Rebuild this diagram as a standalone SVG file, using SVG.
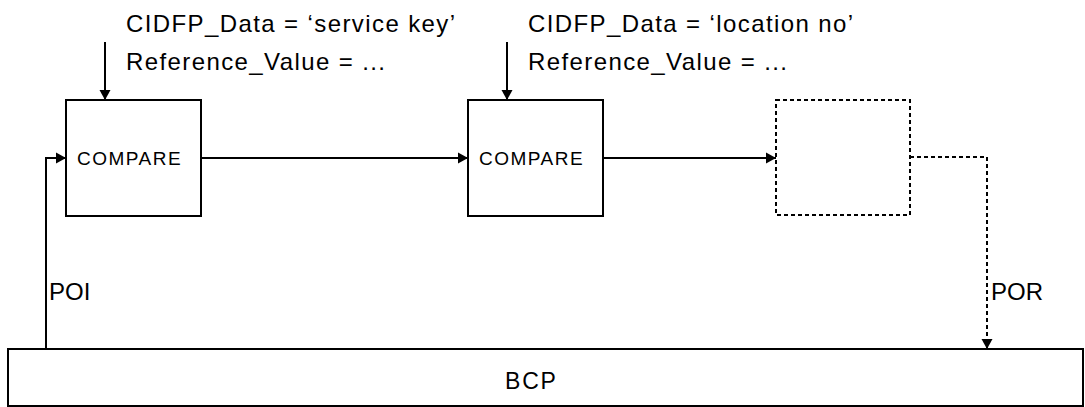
<svg xmlns="http://www.w3.org/2000/svg" width="1085" height="407" viewBox="0 0 1085 407">
<defs>
<marker id="arr" markerUnits="userSpaceOnUse" markerWidth="11" markerHeight="12" refX="10" refY="6" orient="auto">
<path d="M0,0.5 L10,6 L0,11.5 z" fill="#000"/>
</marker>
<style>
.box{fill:#fff;stroke:#000;stroke-width:2}
.dot{fill:none;stroke:#000;stroke-width:2;stroke-dasharray:4 3}
.ln{fill:none;stroke:#000;stroke-width:2}
.big{font-family:"Liberation Sans",Arial,sans-serif;font-size:24px;letter-spacing:1.4px;fill:#000}
.cmp{font-family:"Liberation Sans",Arial,sans-serif;font-size:19px;letter-spacing:1.5px;fill:#000}
.lbl{font-family:"Liberation Sans",Arial,sans-serif;font-size:24px;fill:#000}
.bcp{font-family:"Liberation Sans",Arial,sans-serif;font-size:23px;letter-spacing:1.8px;fill:#000}
</style>
</defs>
<rect width="1085" height="407" fill="#fff"/>
<g id="annot1">
<text class="big" x="126" y="32">CIDFP_Data = ‘service key’</text>
<text class="big" x="126" y="70">Reference_Value = ...</text>
</g>
<g id="annot2">
<text class="big" x="528" y="32">CIDFP_Data = ‘location no’</text>
<text class="big" x="528" y="70">Reference_Value = ...</text>
</g>
<g id="compare1">
<rect class="box" x="66" y="100" width="135" height="116"/>
<text class="cmp" x="77" y="165">COMPARE</text>
</g>
<g id="compare2">
<rect class="box" x="468" y="100" width="135" height="116"/>
<text class="cmp" x="479" y="165">COMPARE</text>
</g>
<g id="placeholder">
<rect class="dot" x="776" y="100" width="134" height="115"/>
</g>
<g id="bcp">
<rect class="box" x="8" y="349" width="1075" height="57"/>
<text class="bcp" x="505" y="389">BCP</text>
</g>
<g id="connectors">
<line class="ln" x1="105" y1="42" x2="105" y2="100" marker-end="url(#arr)"/>
<line class="ln" x1="507" y1="42" x2="507" y2="100" marker-end="url(#arr)"/>
<polyline class="ln" points="46,349 46,158 66,158" marker-end="url(#arr)"/>
<line class="ln" x1="201" y1="158" x2="468" y2="158" marker-end="url(#arr)"/>
<line class="ln" x1="603" y1="158" x2="776" y2="158" marker-end="url(#arr)"/>
<polyline class="dot" points="910,157 987,157 987,349" marker-end="url(#arr)"/>
<text class="lbl" x="49" y="300">POI</text>
<text class="lbl" x="991" y="300">POR</text>
</g>
</svg>
